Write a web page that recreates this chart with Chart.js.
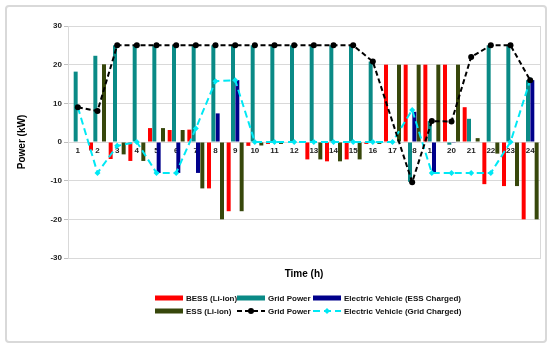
<!DOCTYPE html>
<html>
<head>
<meta charset="utf-8">
<script src="https://cdn.jsdelivr.net/npm/chart.js@4.4.1/dist/chart.umd.min.js"></script>
<style>
  html, body { margin: 0; padding: 0; background: #fff; }
  canvas { display: block; }
</style>
</head>
<body>
<canvas id="powerChart" width="550" height="350"></canvas>
<script>
const hours = ["1","2","3","4","5","6","7","8","9","10","11","12","13","14","15","16","17","18","19","20","21","22","23","24"];

const bess = [0, -2.2, -4.4, -4.9, 3.6, 3.1, 3.2, -12, -17.9, -1, -0.5, 0, -4.5, -5, -4.5, -0.5, 20, 20, 20, 20, 9, -10.9, -11.4, -20];
const gridBar = [18.2, 22.3, 25, 25, 25, 25, 25, 25, 25, 25, 25, 25, 25, 25, 25, 20.8, 0, -10.3, 5.4, -0.7, 6, 25, 25, 16];
const evEss = [0, 0, 0, 0, -8, -8, -8, 7.4, 16, 0, 0, 0, 0, 0, 0, 0, 0, 7.8, -7.8, -0.2, 0, 0, 0, 16];
const ess = [0, 20.1, -3.2, -4.9, 3.6, 3.1, -12, -20, -17.9, -0.9, -0.5, 0, -4.5, -5, -4.5, -0.5, 20, 20, 20, 20, 1, -3, -11.4, -20];
const gridLine = [9, 8, 25, 25, 25, 25, 25, 25, 25, 25, 25, 25, 25, 25, 25, 20.8, null, -10.4, 5.4, 5.3, 22, 25, 25, 16];
const evGrid = [9, -8, -1, 0, -8, -8, 3.5, 15.7, 16, 0, 0, 0, 0, 0, 0, 0, 0, 8.3, -8, -8, -8, -8, 0, 16];

const yTicks = [-30, 30, 10]; // min, max, step

Chart.defaults.font.family = "'Liberation Sans', Arial, sans-serif";
Chart.defaults.font.weight = "bold";

// frame, plot border and the two-row legend
const chartExtras = {
  id: "chartExtras",
  beforeDraw(chart) {
    const c = chart.ctx;
    c.save();
    c.fillStyle = "#fff";
    c.fillRect(0, 0, chart.width, chart.height);
    c.strokeStyle = "#d9d9d9";
    c.lineWidth = 2;
    c.beginPath();
    c.roundRect(6, 6, 540, 336, 3);
    c.stroke();
    c.restore();
  },
  beforeDatasetsDraw(chart) {
    const a = chart.chartArea;
    const c = chart.ctx;
    c.save();
    c.strokeStyle = "#d9d9d9";
    c.lineWidth = 1;
    c.strokeRect(a.left + 0.5, a.top + 0.5, a.right - a.left, a.bottom - a.top);
    c.restore();
  },
  afterDraw(chart) {
    const c = chart.ctx;
    const cols = [155, 237, 313];
    const rows = [298, 311];
    c.save();
    c.font = "bold 8px 'Liberation Sans', Arial, sans-serif";
    c.textBaseline = "middle";
    chart.data.datasets.forEach((ds, i) => {
      const x = cols[i % 3];
      const y = rows[Math.floor(i / 3)];
      if (ds.type === "line") {
        c.strokeStyle = ds.borderColor;
        c.lineWidth = 2;
        c.setLineDash(ds.borderDash);
        c.beginPath();
        c.moveTo(x, y);
        c.lineTo(x + 28, y);
        c.stroke();
        c.setLineDash([]);
        c.fillStyle = ds.pointBackgroundColor;
        c.beginPath();
        if (ds.pointStyle === "rectRot") {
          c.moveTo(x + 14, y - 3);
          c.lineTo(x + 17, y);
          c.lineTo(x + 14, y + 3);
          c.lineTo(x + 11, y);
          c.closePath();
        } else {
          c.arc(x + 14, y, 3, 0, Math.PI * 2);
        }
        c.fill();
      } else {
        c.fillStyle = ds.backgroundColor;
        c.fillRect(x, y - 2.5, 28, 5);
      }
      c.fillStyle = "#111";
      c.fillText(ds.label, x + 31, y + 0.5);
    });
    c.restore();
  }
};

const barCommon = { categoryPercentage: 0.88, barPercentage: 0.92, order: 2 };

new Chart(document.getElementById("powerChart"), {
  type: "bar",
  data: {
    labels: hours,
    datasets: [
      { label: "BESS (Li-ion)", data: bess, backgroundColor: "#ff0000", ...barCommon },
      { label: "Grid Power", data: gridBar, backgroundColor: "#0a8a86", ...barCommon },
      { label: "Electric Vehicle (ESS Charged)", data: evEss, backgroundColor: "#00008b", ...barCommon },
      { label: "ESS (Li-ion)", data: ess, backgroundColor: "#37470b", ...barCommon },
      {
        type: "line", label: "Grid Power", data: gridLine, order: 0,
        borderColor: "#000", borderWidth: 2, borderDash: [5, 3],
        pointStyle: "circle", pointRadius: 3, pointBackgroundColor: "#000", pointBorderWidth: 0,
        spanGaps: true, fill: false, tension: 0
      },
      {
        type: "line", label: "Electric Vehicle (Grid Charged)", data: evGrid, order: 1,
        borderColor: "#00e8f4", borderWidth: 2, borderDash: [7, 4],
        pointStyle: "rectRot", pointRadius: 3, pointBackgroundColor: "#00e8f4", pointBorderWidth: 0,
        fill: false, tension: 0
      }
    ]
  },
  options: {
    responsive: false,
    animation: false,
    layout: { padding: { top: 26, left: 6, right: 10, bottom: 62 } },
    plugins: {
      legend: { display: false },
      tooltip: { enabled: false }
    },
    scales: {
      x: {
        position: { y: 0 },
        grid: { display: false, drawTicks: false },
        border: { display: false },
        ticks: { padding: 4, autoSkip: false, maxRotation: 0, color: "#222", font: { size: 8, weight: "bold" } }
      },
      xt: {
        axis: "x",
        type: "category",
        labels: hours,
        position: "bottom",
        grid: { display: false, drawTicks: false },
        border: { display: false },
        ticks: { display: false },
        title: { display: true, text: "Time (h)", color: "#000", font: { size: 10, weight: "bold" }, padding: { top: 0, bottom: 8 } },
        afterFit(s) { s.height = 30; }
      },
      y: {
        min: yTicks[0],
        max: yTicks[1],
        ticks: { stepSize: yTicks[2], padding: 2, color: "#222", font: { size: 8, weight: "bold" } },
        grid: { color: "#d9d9d9", tickLength: 4, tickColor: "#bfbfbf" },
        border: { color: "#bfbfbf" },
        title: { display: true, text: "Power (kW)", color: "#000", font: { size: 10, weight: "bold" }, padding: { top: 10, bottom: 0 } },
        afterFit(s) { s.width = 62; }
      }
    }
  },
  plugins: [chartExtras]
});
</script>
</body>
</html>
